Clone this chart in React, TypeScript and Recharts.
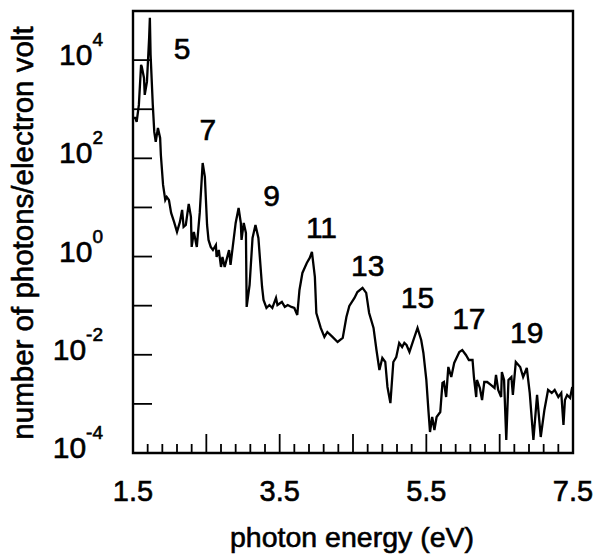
import React from 'react';
import { LineChart, Line, XAxis, YAxis, ReferenceArea, ReferenceDot } from 'recharts';

// photon energy (eV) and spectrum
const energy = [
  1.50, 1.53, 1.55, 1.58, 1.61, 1.62, 1.65, 1.66, 1.69, 1.72,
  1.73, 1.74, 1.77, 1.79, 1.81, 1.84, 1.87, 1.88, 1.91, 1.94,
  1.96, 1.99, 2.02, 2.06, 2.10, 2.14, 2.17, 2.19, 2.22, 2.26,
  2.29, 2.30, 2.33, 2.37, 2.41, 2.45, 2.48, 2.51, 2.53, 2.56,
  2.59, 2.63, 2.64, 2.67, 2.70, 2.72, 2.75, 2.81, 2.83, 2.86,
  2.90, 2.94, 2.97, 2.98, 3.01, 3.04, 3.05, 3.09, 3.13, 3.17,
  3.21, 3.26, 3.28, 3.32, 3.36, 3.40, 3.45, 3.47, 3.53, 3.57,
  3.61, 3.66, 3.70, 3.74, 3.77, 3.81, 3.87, 3.91, 3.94, 3.98,
  4.00, 4.06, 4.11, 4.15, 4.22, 4.29, 4.36, 4.41, 4.45, 4.52,
  4.56, 4.63, 4.68, 4.72, 4.78, 4.82, 4.86, 4.90, 4.94, 4.97,
  5.01, 5.05, 5.09, 5.13, 5.17, 5.20, 5.23, 5.27, 5.32, 5.38,
  5.43, 5.46, 5.50, 5.53, 5.55, 5.58, 5.61, 5.64, 5.69, 5.72,
  5.74, 5.77, 5.80, 5.84, 5.88, 5.95, 5.99, 6.04, 6.08, 6.13,
  6.15, 6.18, 6.19, 6.23, 6.26, 6.29, 6.33, 6.38, 6.43, 6.45,
  6.48, 6.52, 6.53, 6.56, 6.59, 6.62, 6.66, 6.68, 6.72, 6.78,
  6.82, 6.87, 6.91, 6.96, 7.01, 7.06, 7.11, 7.16, 7.21, 7.25,
  7.30, 7.34, 7.37, 7.39, 7.42, 7.46, 7.49,
];

const photons = [
  665, 665, 551, 1224, 7980, 7280, 4340, 1955, 3600, 28300,
  72400, 12800, 1224, 345, 216, 416, 260, 117, 28.7, 14.2,
  16.4, 14.2, 7.73, 5.07, 3.17, 5.07, 8.89, 4.01, 4.40, 11.8,
  6.41, 1.57, 3.17, 1.57, 7.73, 80.5, 41.8, 4.40, 2.18, 1.57,
  1.36, 1.72, 0.98, 1.36, 0.614, 0.98, 0.614, 1.36, 0.675, 1.57,
  4.83, 9.77, 4.83, 2.18, 4.83, 3.03, 0.0942, 0.264, 2.39, 4.40,
  2.39, 0.240, 0.131, 0.0897, 0.103, 0.0897, 0.144, 0.103, 0.119, 0.0942,
  0.103, 0.0942, 0.0897, 0.0647, 0.209, 0.464, 0.741, 0.938, 1.24, 0.385,
  0.071, 0.0352, 0.0231, 0.0291, 0.0231, 0.0182, 0.022, 0.0589, 0.0986, 0.144,
  0.190, 0.230, 0.182, 0.071, 0.0352, 0.0125, 0.0049, 0.0086, 0.00713, 0.00221,
  0.00104, 0.00713, 0.00902, 0.0174, 0.0144, 0.0174, 0.0158, 0.0114, 0.0191, 0.0352,
  0.02, 0.0109, 0.00307, 0.000684, 0.000268, 0.000541, 0.000294, 0.000541, 0.000684, 0.00267,
  0.00279, 0.00138, 0.00565, 0.00353, 0.00681, 0.0114, 0.0125, 0.00991, 0.00783, 0.00783,
  0.00337, 0.00138, 0.00307, 0.00211, 0.0012, 0.00279, 0.00279, 0.00243, 0.00211, 0.00388,
  0.00192, 0.00138, 0.00447, 0.00307, 0.000184, 0.00307, 0.00353, 0.00152, 0.00713, 0.00565,
  0.00353, 0.00538, 0.00167, 0.000184, 0.00152, 0.000212, 0.000752, 0.00192, 0.00167, 0.00192,
  0.00138, 0.00167, 0.000372, 0.0012, 0.00152, 0.00132, 0.00221,
];

// harmonic order labels
const harmonics = ['5', '7', '9', '11', '13', '15', '17', '19'];
const harmonicX = [2.17, 2.52, 3.39, 4.07, 4.70, 5.38, 6.08, 6.87];
const harmonicY = [17700, 397, 18, 4.0, 0.67, 0.15, 0.054, 0.029];

const xTicks = [
  1.5, 1.7, 1.9, 2.1, 2.3, 2.5, 2.7, 2.9, 3.1, 3.3, 3.5, 3.7, 3.9, 4.1, 4.3, 4.5,
  4.7, 4.9, 5.1, 5.3, 5.5, 5.7, 5.9, 6.1, 6.3, 6.5, 6.7, 6.9, 7.1, 7.3, 7.5,
];
const xMajorTicks = [2.5, 3.5, 4.5, 5.5, 6.5];
const xLabelTicks = [1.5, 3.5, 5.5, 7.5];
const yTicks = [1e-4, 1e-3, 1e-2, 1e-1, 1, 10, 100, 1e3, 1e4, 1e5];
const yLabelTicks = [1e-4, 1e-2, 1, 100, 1e4];

const data = energy.map((e, i) => ({ energy: e, photons: photons[i] }));

const FONT = '"Liberation Sans", Arial, Helvetica, sans-serif';
// the scanned original has heavy type, thicken a little with a stroke
const INK = { fill: '#000', stroke: '#000', strokeWidth: 0.6, fontFamily: FONT };

const XTick = (props: any) => {
  const { x, y, payload } = props;
  const v = payload.value;
  const len = xMajorTicks.includes(v) ? 19 : 9;
  return (
    <g>
      <line x1={x} x2={x} y1={y} y2={y - len} stroke="#000" strokeWidth={1.8} />
      {xLabelTicks.includes(v) && (
        <text x={x} y={y + 48} textAnchor="middle" fontSize={29} {...INK}>
          {v.toFixed(1)}
        </text>
      )}
    </g>
  );
};

const YTick = (props: any) => {
  const { x, y, payload } = props;
  const v = payload.value;
  const exp = Math.round(Math.log10(v));
  return (
    <g>
      <line x1={x} x2={x + 19} y1={y} y2={y} stroke="#000" strokeWidth={1.8} />
      {yLabelTicks.includes(v) && (
        <text x={x - 30} y={y + 5} textAnchor="end" {...INK}>
          <tspan fontSize={30}>10</tspan>
          <tspan fontSize={19} dy={-19}>{exp}</tspan>
        </text>
      )}
    </g>
  );
};

const YTitle = () => (
  <text
    transform="translate(22, 233) rotate(-90)"
    textAnchor="middle"
    dominantBaseline="central"
    fontSize={29.5}
    {...INK}
  >
    number of photons/electron volt
  </text>
);

const XTitle = () => (
  <text x={352} y={547} textAnchor="middle" fontSize={28.5} {...INK}>
    photon energy (eV)
  </text>
);

export default function App() {
  return (
    <div style={{ position: 'absolute', left: 0, top: 0, background: '#fff' }}>
      <LineChart width={596} height={555} data={data} margin={{ top: 11, right: 23, bottom: 0, left: 0 }}>
        <XAxis
          dataKey="energy"
          type="number"
          domain={[1.5, 7.5]}
          ticks={xTicks}
          interval={0}
          height={102}
          axisLine={false}
          tickLine={false}
          tickSize={0}
          tickMargin={0}
          tick={<XTick />}
          label={{ content: <XTitle /> }}
        />
        <YAxis
          type="number"
          scale="log"
          domain={[1e-4, 1e5]}
          allowDataOverflow
          ticks={yTicks}
          interval={0}
          width={133}
          axisLine={false}
          tickLine={false}
          tickSize={0}
          tickMargin={0}
          tick={<YTick />}
          label={{ content: <YTitle /> }}
        />
        <ReferenceArea x1={1.5} x2={7.5} y1={1e-4} y2={1e5} fill="none" stroke="#000" strokeWidth={2.4} ifOverflow="visible" />
        <Line
          type="linear"
          dataKey="photons"
          stroke="#000"
          strokeWidth={2.3}
          dot={false}
          isAnimationActive={false}
        />
        {harmonics.map((h, i) => (
          <ReferenceDot
            key={h}
            x={harmonicX[i]}
            y={harmonicY[i]}
            r={0}
            fill="none"
            stroke="none"
            label={{ value: h, position: 'center', fontSize: 30, ...INK }}
          />
        ))}
      </LineChart>
    </div>
  );
}
